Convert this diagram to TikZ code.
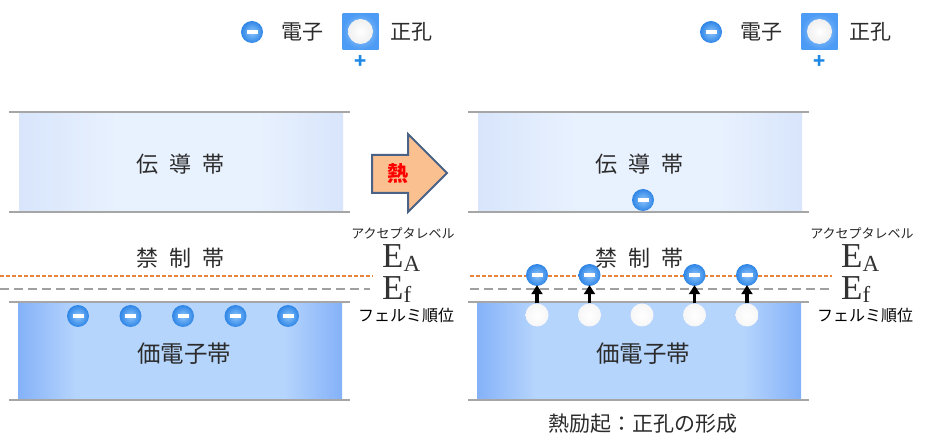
\documentclass[tikz,border=0pt]{standalone}
\usepackage{fontspec}
\setmainfont{Liberation Serif}
\newfontfamily\jp{Noto Sans CJK JP}
\usetikzlibrary{arrows.meta}
\definecolor{txt}{HTML}{2B2B2B}
\definecolor{bandline}{HTML}{A6A6A6}
\definecolor{cbedge}{HTML}{D8E5FB}
\definecolor{cbmid}{HTML}{E8F1FE}
\definecolor{vbedge}{HTML}{84B1F8}
\definecolor{vbmid}{HTML}{B6D5FD}
\definecolor{eouter}{HTML}{2E85E6}
\definecolor{einner}{HTML}{8CC4FB}
\definecolor{eaorange}{HTML}{E8843A}
\definecolor{efgray}{HTML}{A0A0A0}
\definecolor{heatfill}{HTML}{FAC090}
\definecolor{heatdraw}{HTML}{4A6285}
\definecolor{plusblue}{HTML}{1E88E5}
\definecolor{sqouter}{HTML}{4C9BF4}
\definecolor{sqinner}{HTML}{A4D0FC}
\pgfdeclarehorizontalshading{cbshade}{100bp}{color(0bp)=(cbedge); color(25bp)=(cbedge); color(40bp)=(cbmid); color(62bp)=(cbmid); color(75bp)=(cbedge); color(100bp)=(cbedge)}
\pgfdeclarehorizontalshading{vbshade}{100bp}{color(0bp)=(vbedge); color(25bp)=(vbedge); color(34bp)=(vbmid); color(66bp)=(vbmid); color(75bp)=(vbedge); color(100bp)=(vbedge)}
\tikzset{
  x=1pt, y=-1pt,
  electron/.style={circle, minimum size=22pt, inner sep=0pt, inner color=einner, outer color=eouter,
    path picture={\fill[white] ([xshift=-5.5pt,yshift=-1.8pt]path picture bounding box.center) rectangle ([xshift=5.5pt,yshift=1.8pt]path picture bounding box.center);}},
  hole/.style={circle, minimum size=23pt, inner sep=0pt, inner color=white, outer color=white!93!gray},
  bandtext/.style={font=\jp\fontsize{22pt}{26pt}\selectfont, text=txt, inner sep=0pt},
  legendtext/.style={font=\jp\fontsize{21pt}{25pt}\selectfont, text=txt, inner sep=0pt},
  smalljp/.style={font=\jp\fontsize{13pt}{15pt}\selectfont, text=black!85, inner sep=0pt},
  fermijp/.style={font=\jp\fontsize{16pt}{18pt}\selectfont, text=black, inner sep=0pt},
  elabel/.style={font=\fontsize{35pt}{38pt}\selectfont, text=black!80, inner sep=0pt, anchor=base west},
  bline/.style={draw=bandline, line width=1.5pt},
  ealine/.style={draw=eaorange, line width=1.5pt, dash pattern=on 4pt off 2pt},
  efline/.style={draw=efgray, line width=1.5pt, dash pattern=on 9pt off 5pt},
  uparrow/.style={-{Triangle[width=11pt,length=9pt]}, line width=3.2pt, black, shorten >=-1pt},
  sqhole/.style={rectangle, minimum width=36pt, minimum height=36pt, inner sep=0pt, inner color=sqinner, outer color=sqouter},
  legendhole/.style={circle, minimum size=25pt, inner sep=0pt, inner color=white, outer color=white!88!gray},
}
\newcommand\EAlabel{E\raisebox{-4pt}{\fontsize{23pt}{25pt}\selectfont A}}
\newcommand\Eflabel{E\raisebox{-3pt}{\fontsize{23pt}{25pt}\selectfont f}}
% #1 prefix, #2 xshift, #3 dashed-line start
\newcommand\bandpanel[3]{%
\begin{scope}[xshift=#2]
  % legend
  \node[electron] (#1le) at (252,32) {};
  \node[legendtext] (#1lt) at (302,32) {電子};
  \node[sqhole] (#1sq) at (360.5,31.5) {};
  \node[legendhole] (#1lh) at (360.5,31.5) {};
  \node[legendtext] (#1ht) at (411,32) {正孔};
  \node[font=\jp\bfseries\fontsize{20pt}{22pt}\selectfont, text=plusblue, inner sep=0pt] (#1plus) at (361,62) {+};
  % bands
  \shade[shading=cbshade] (19,112) rectangle (343,211);
  \shade[shading=vbshade] (18,303) rectangle (342,400);
  \draw[bline] (9,112) -- (350,112);
  \draw[bline] (9,212) -- (350,212);
  \draw[bline] (9,302) -- (350,302);
  \draw[bline] (9,400) -- (350,400);
  \draw[ealine] (#3,276) -- (373,276);
  \draw[efline] (#3,289) -- (370,289);
  \node[bandtext] (#1cb) at (180,164) {伝\hspace{0.5em}導\hspace{0.5em}帯};
  \node[bandtext] (#1gap) at (180,258) {禁\hspace{0.5em}制\hspace{0.5em}帯};
  \node[bandtext, font=\jp\fontsize{23.5pt}{26pt}\selectfont] (#1vb) at (184,354) {価電子帯};
  % level labels
  \node[smalljp] (#1acc) at (403,233) {アクセプタレベル};
  \node[elabel] (#1ea) at (382,268) {\EAlabel};
  \node[elabel] (#1ef) at (382,300) {\Eflabel};
  \node[fermijp] (#1fermi) at (406,315) {フェルミ順位};
\end{scope}}
\begin{document}
\begin{tikzpicture}
\useasboundingbox (0,0) rectangle (930,446);
\fill[white] (0,0) rectangle (930,446);
\bandpanel{L}{0pt}{0}
\bandpanel{R}{459pt}{11}
% left: electrons in valence band
\foreach \i/\x in {1/78,2/130.5,3/183,4/235.5,5/288}
  \node[electron] (Lv\i) at (\x,316) {};
% heat arrow
\draw[fill=heatfill, draw=heatdraw, line width=2pt, line join=miter]
  (372,155) -- (408,155) -- (408,134) -- (447,173) -- (408,212) -- (408,193) -- (372,193) -- cycle;
\node[font=\jp\bfseries\fontsize{21pt}{24pt}\selectfont, text=red, inner sep=0pt] (heat) at (398,174) {熱};
% right: holes, excited electrons
\foreach \i/\x in {1/537,2/589.5,3/642,4/694.5,5/747}
  \node[hole] (Rh\i) at (\x,315) {};
\foreach \i/\x in {1/537,2/589.5,4/694.5,5/747}
  \node[electron] (Re\i) at (\x,275) {};
\foreach \i in {1,2,4,5}
  \draw[uparrow] (Rh\i.north) -- (Re\i.south);
\node[electron] (Rc) at (643,200) {};
\node[legendtext] (caption) at (643,424) {熱励起：正孔の形成};
\end{tikzpicture}
\end{document}
